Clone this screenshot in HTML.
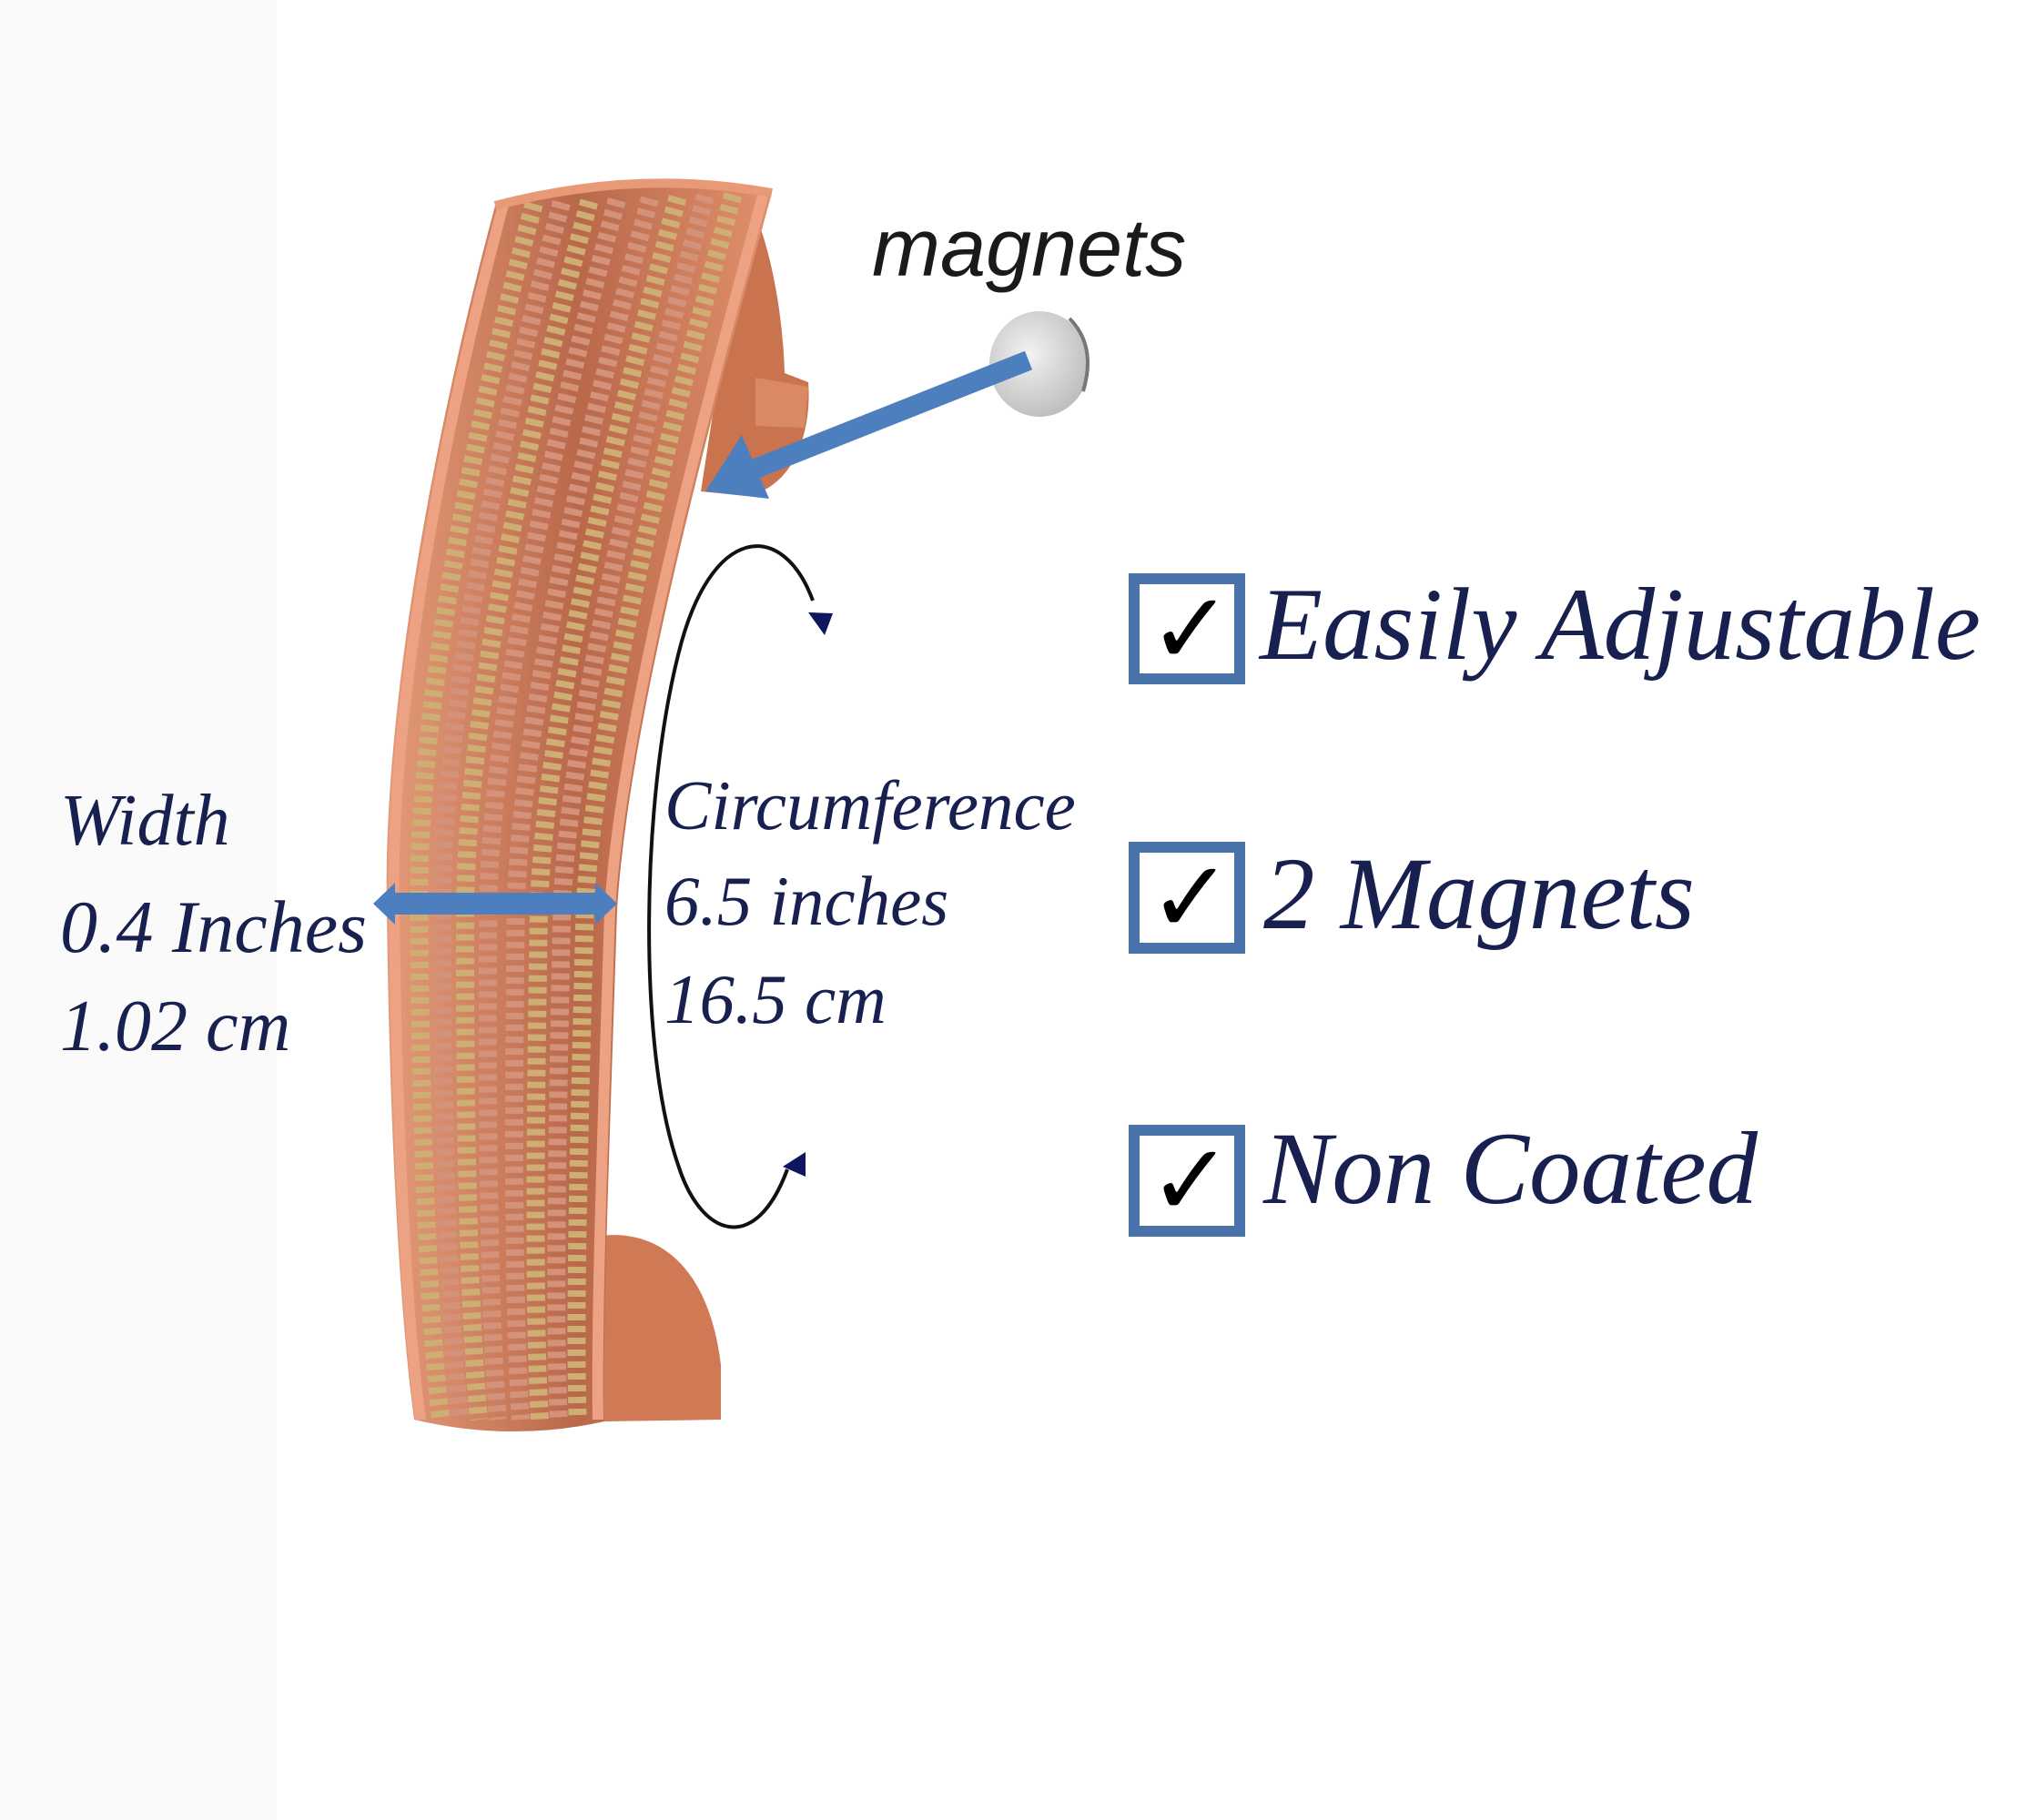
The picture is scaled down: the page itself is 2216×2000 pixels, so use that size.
<!DOCTYPE html>
<html><head><meta charset="utf-8"><style>
html,body{margin:0;padding:0;background:#fff;}
body{width:2216px;height:2000px;position:relative;overflow:hidden;}
.t{position:absolute;font-family:"Liberation Serif",serif;font-style:italic;color:#18204f;white-space:nowrap;line-height:1;}
</style></head><body>
<div style="position:absolute;left:0;top:0;width:304px;height:2000px;background:#fafafa;"></div>
<svg width="2216" height="2000" style="position:absolute;left:0;top:0">
<defs>
<linearGradient id="cu" x1="0" y1="0" x2="1" y2="0">
<stop offset="0" stop-color="#e39a78"/><stop offset="0.5" stop-color="#b9684a"/><stop offset="1" stop-color="#e0906c"/>
</linearGradient>
<radialGradient id="mg" cx="0.4" cy="0.4" r="0.7"><stop offset="0" stop-color="#f2f2f2"/><stop offset="1" stop-color="#b8b8b8"/></radialGradient>
</defs>
<!-- inner ends -->
<path d="M820 215 C845 260 860 340 862 410 L888 420 C892 470 875 535 820 545 L770 540 Z" fill="#c9744f"/>
<path d="M830 415 L888 425 L884 470 L830 468 Z" fill="#d98a64"/>
<path d="M660 1358 C730 1350 780 1400 792 1500 L792 1560 L664 1562 Z" fill="#cf7a55"/>
<!-- band -->
<path d="M544 226 C470 500 420 800 425 1000 C428 1250 440 1450 455 1560 Q560 1585 664 1562 C662 1450 670 1250 678 1000 C690 800 775 480 848 212 Q700 185 544 226 Z" fill="url(#cu)"/>
<g fill="none" stroke-width="20" stroke-dasharray="7 6">
<path d="M586.6 224 C512.7 497 457.8 800 460.4 1000 C461.9 1250 471.1 1450 484.3 1560" stroke="#cfae74"/>
<path d="M617 222.6 C543.2 495.2 484.8 800 485.7 1000 C486.1 1250 493.3 1450 505.2 1560" stroke="#d4927a"/>
<path d="M647.4 221.2 C573.7 493.2 511.8 800 511 1000 C510.3 1250 515.5 1450 526.1 1560" stroke="#cfae74"/>
<path d="M677.8 219.8 C604.2 491.2 538.8 800 536.3 1000 C534.5 1250 537.7 1450 547 1560" stroke="#d4927a"/>
<path d="M714.2 218.2 C640.8 488.8 571.2 800 566.7 1000 C563.5 1250 564.3 1450 572 1560" stroke="#d4927a"/>
<path d="M744.6 216.8 C671.3 486.8 598.2 800 592 1000 C587.7 1250 586.5 1450 592.9 1560" stroke="#cfae74"/>
<path d="M775 215.4 C701.8 484.8 625.2 800 617.3 1000 C611.9 1250 608.7 1450 613.8 1560" stroke="#d4927a"/>
<path d="M805.4 214 C732.3 482.8 652.2 800 642.6 1000 C636.1 1250 630.9 1450 634.7 1560" stroke="#cfae74"/>
</g>
<path d="M553 225 C479 500 428 800 433 1000 C436 1250 447 1450 462 1560" fill="none" stroke="#eda283" stroke-width="12"/>
<path d="M839 212 C766 480 682 800 670 1000 C662 1250 655 1450 657 1560" fill="none" stroke="#eda283" stroke-width="12"/>
<path d="M544 226 Q700 185 848 212" fill="none" stroke="#e89a78" stroke-width="10"/>
<!-- magnet -->
<ellipse cx="1142" cy="400" rx="55" ry="58" fill="url(#mg)"/>
<path d="M1175 350 Q1205 380 1190 430" fill="none" stroke="#777" stroke-width="4"/>
<!-- blue arrow -->
<line x1="1130" y1="396" x2="830" y2="515" stroke="#4d7fbf" stroke-width="22"/>
<polygon points="775,540 815,478 845,548" fill="#4d7fbf"/>
<!-- width bar -->
<rect x="430" y="981" width="228" height="24" fill="#4d7fbf"/>
<polygon points="410,993 434,970 434,1016" fill="#4d7fbf"/>
<polygon points="678,993 654,970 654,1016" fill="#4d7fbf"/>
<!-- arc -->
<path d="M893 660 C860 570 780 575 745 720 C705 880 700 1150 745 1280 C770 1360 830 1380 865 1285" fill="none" stroke="#111" stroke-width="4"/>
<polygon points="888,673 915,674 906,698" fill="#0e1660"/>
<polygon points="860,1282 885,1266 885,1293" fill="#0e1660"/>
<!-- checkboxes -->
<g fill="#fff" stroke="#4a72aa" stroke-width="12">
<rect x="1246" y="636" width="116" height="110"/>
<rect x="1246" y="931" width="116" height="111"/>
<rect x="1246" y="1242" width="116" height="111"/>
</g>
</svg>
<div style="position:absolute;left:958px;top:222px;font:italic 90px 'Liberation Sans',sans-serif;color:#1a1a1a;">magnets</div>
<div class="t" style="left:1262px;top:636px;font-size:110px;font-style:normal;color:#000;font-family:'DejaVu Sans',sans-serif;font-weight:bold;">✓</div>
<div class="t" style="left:1262px;top:931px;font-size:110px;font-style:normal;color:#000;font-family:'DejaVu Sans',sans-serif;font-weight:bold;">✓</div>
<div class="t" style="left:1262px;top:1242px;font-size:110px;font-style:normal;color:#000;font-family:'DejaVu Sans',sans-serif;font-weight:bold;">✓</div>
<div class="t" style="left:1384px;top:630px;font-size:113px;">Easily Adjustable</div>
<div class="t" style="left:1388px;top:926px;font-size:113px;">2 Magnets</div>
<div class="t" style="left:1388px;top:1228px;font-size:113px;">Non Coated</div>
<div class="t" style="left:66px;top:862px;font-size:80px;">Width</div>
<div class="t" style="left:66px;top:978px;font-size:82px;">0.4 Inches</div>
<div class="t" style="left:66px;top:1088px;font-size:80px;">1.02 cm</div>
<div class="t" style="left:730px;top:847px;font-size:77px;">Circumference</div>
<div class="t" style="left:730px;top:952px;font-size:77px;">6.5 inches</div>
<div class="t" style="left:730px;top:1060px;font-size:77px;">16.5 cm</div>
</body></html>
